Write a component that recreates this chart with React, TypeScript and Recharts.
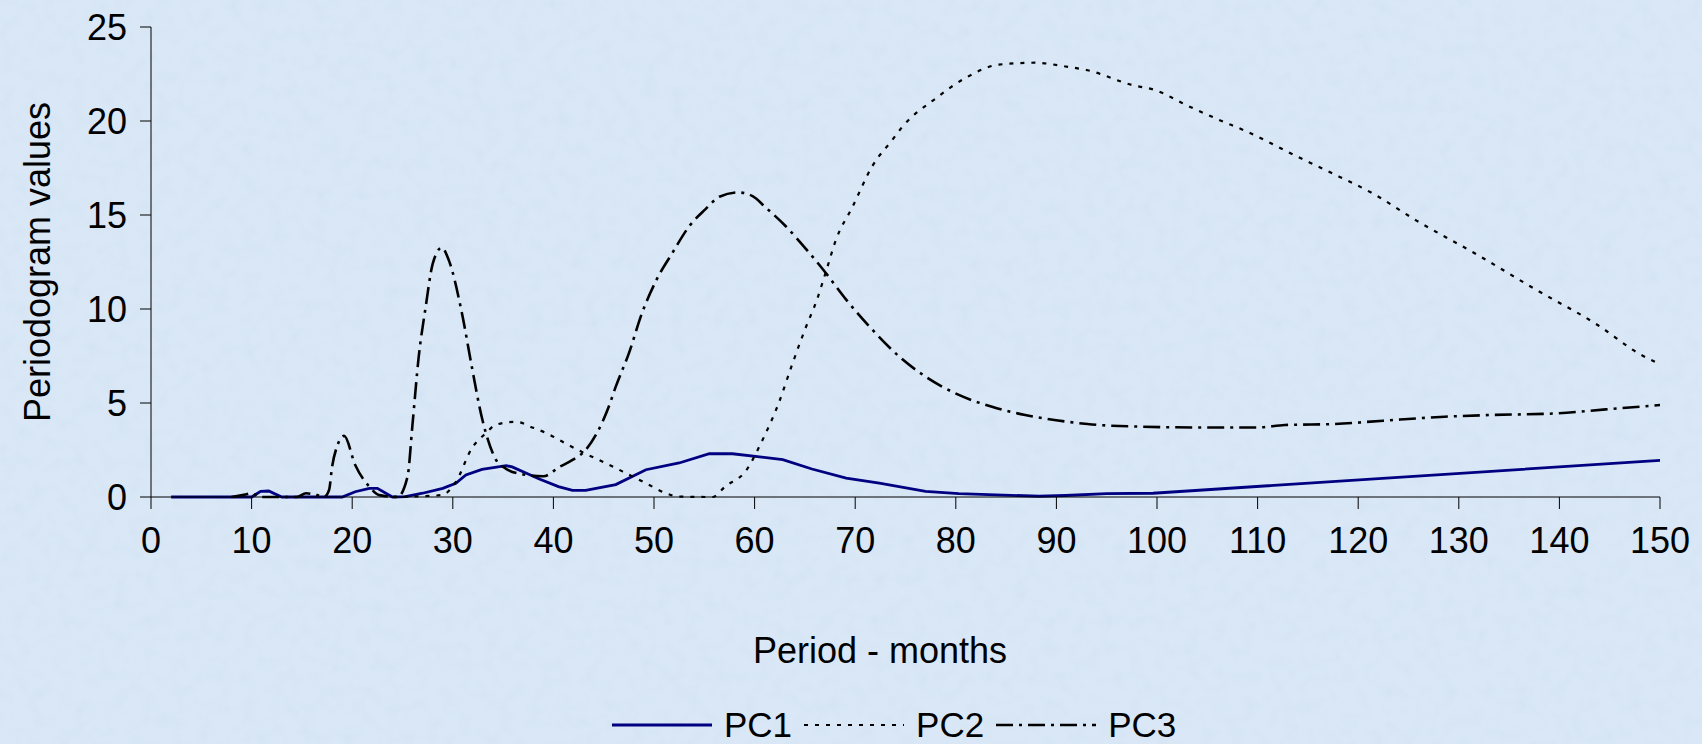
import { LineChart, Line, XAxis, YAxis } from 'recharts';

// x axis: period in months, y axis: periodogram value
const xTicks = [0, 10, 20, 30, 40, 50, 60, 70, 80, 90, 100, 110, 120, 130, 140, 150];
const yTicks = [0, 5, 10, 15, 20, 25];

const pc1Period = [2, 10, 10.9, 11.7, 13, 19, 20.3, 21.7, 22.5, 24, 25.3, 27, 29, 30.3, 31.3, 32.9, 35.3, 35.9, 37.6, 38.6, 40.5, 41.9, 43.2, 46.2, 49.2, 52.5, 55.5, 57.8, 62.8, 65.7, 69.1, 72.4, 77, 80.3, 88.3, 90.9, 95, 99.6, 150];
const pc1Value = [0, 0, 0.3, 0.32, 0, 0, 0.28, 0.46, 0.46, 0, 0.02, 0.2, 0.46, 0.73, 1.17, 1.47, 1.67, 1.6, 1.2, 0.96, 0.55, 0.35, 0.35, 0.66, 1.45, 1.81, 2.3, 2.3, 1.99, 1.49, 1.01, 0.74, 0.3, 0.18, 0.04, 0.08, 0.18, 0.2, 1.95];

const pc2Period = [24, 28.9, 30.3, 31.9, 33.3, 34.3, 36.3, 37.9, 39.3, 41.2, 43.2, 44.9, 46.9, 49.2, 51.2, 52.5, 55.8, 57.1, 59.1, 60.8, 62.4, 63.7, 65, 66.2, 67.1, 68.1, 69.7, 71.7, 73.7, 74.7, 78, 81, 84.3, 87.9, 90.9, 93.1, 97.6, 99.8, 102.9, 106, 109.1, 113.6, 116.7, 121.6, 125.8, 131.8, 137.6, 143.8, 148, 150];
const pc2Value = [0, 0.1, 0.8, 2.6, 3.4, 3.85, 4.0, 3.7, 3.4, 2.85, 2.3, 1.88, 1.35, 0.73, 0.2, 0.02, 0, 0.57, 1.37, 3.05, 5.0, 7.0, 8.9, 10.5, 12.0, 13.7, 15.4, 17.6, 19.0, 19.7, 21.2, 22.3, 23.0, 23.1, 22.9, 22.7, 21.9, 21.65, 20.85, 20.1, 19.4, 18.2, 17.4, 16.1, 14.7, 12.9, 11.05, 9.15, 7.6, 7.06];

const pc3Period = [8, 9.5, 10, 10.8, 14.5, 15.4, 16.5, 17.2, 17.7, 18, 18.5, 19.2, 20.3, 21.7, 22.7, 24.5, 25.5, 26, 26.6, 27.3, 28, 28.9, 29.6, 30.9, 31.9, 32.9, 34.3, 35.3, 37, 39, 40.6, 41.9, 43.2, 45.5, 46.2, 47.5, 48.8, 50.2, 51.8, 53.5, 55.1, 56.5, 58.4, 59.8, 61.1, 63.1, 65.1, 67.1, 69.1, 71.7, 74.4, 77, 80.3, 83.6, 86.9, 88.7, 93.1, 98.5, 104.3, 110, 112.7, 117.6, 122.5, 128.6, 133.1, 139.8, 144.6, 150];
const pc3Value = [0, 0.15, 0.2, 0, 0, 0.2, 0.1, 0, 0.37, 1.6, 2.7, 3.25, 1.7, 0.55, 0.1, 0, 1.08, 3.9, 7.4, 10.1, 12.4, 13.26, 12.6, 9.8, 6.9, 4.2, 1.97, 1.5, 1.2, 1.1, 1.6, 1.97, 2.5, 4.8, 5.87, 7.64, 9.77, 11.5, 12.96, 14.4, 15.3, 15.97, 16.2, 16.0, 15.4, 14.4, 13.2, 11.9, 10.5, 8.9, 7.46, 6.4, 5.43, 4.8, 4.36, 4.19, 3.88, 3.74, 3.7, 3.7, 3.83, 3.88, 4.06, 4.27, 4.36, 4.45, 4.66, 4.89];

const toPoints = (period: number[], value: number[]) =>
  period.map((p, i) => ({ period: p, value: value[i] }));

const series = [
  { name: 'PC1', data: toPoints(pc1Period, pc1Value), color: '#000080', width: 2.8, dash: undefined as string | undefined, type: 'linear' as const },
  { name: 'PC2', data: toPoints(pc2Period, pc2Value), color: '#000000', width: 2.2, dash: '4 7', type: 'monotone' as const },
  { name: 'PC3', data: toPoints(pc3Period, pc3Value), color: '#000000', width: 2.6, dash: '17 6 3 6', type: 'monotone' as const },
];

const font = '"Liberation Sans", Arial, sans-serif';
const bg = '#d9e7f6';

const App = () => {
  return (
    <div style={{ position: 'absolute', left: 0, top: 0, width: 1702, height: 744, background: bg, fontFamily: font, overflow: 'hidden' }}>
      {/* tissue-paper style background */}
      <svg width={1702} height={744} style={{ position: 'absolute', left: 0, top: 0 }}>
        <defs>
          <filter id="tissue" x="0" y="0" width="100%" height="100%">
            <feTurbulence type="fractalNoise" baseFrequency="0.07" numOctaves="2" seed="7" />
            <feColorMatrix type="matrix" values="0 0 0 0 0.66  0 0 0 0 0.77  0 0 0 0 0.9  2.6 0 0 0 -1.1" />
          </filter>
        </defs>
        <rect width={1702} height={744} fill={bg} />
        <rect width={1702} height={744} filter="url(#tissue)" opacity={0.6} />
      </svg>

      <LineChart width={1702} height={744} margin={{ top: 27, right: 42, left: 0, bottom: 187 }}>
        <XAxis
          dataKey="period"
          type="number"
          domain={[0, 150]}
          ticks={xTicks}
          allowDataOverflow
          height={60}
          stroke="#000"
          tickSize={12}
          tickMargin={18}
          tick={{ fill: '#000', fontSize: 36, fontFamily: font }}
        />
        <YAxis
          type="number"
          domain={[0, 25]}
          ticks={yTicks}
          width={151}
          stroke="#000"
          tickSize={11}
          tickMargin={13}
          tick={{ fill: '#000', fontSize: 36, fontFamily: font }}
        />
        {series.map((s) => (
          <Line
            key={s.name}
            data={s.data}
            dataKey="value"
            name={s.name}
            type={s.type}
            stroke={s.color}
            strokeWidth={s.width}
            strokeDasharray={s.dash}
            dot={false}
            activeDot={false}
            isAnimationActive={false}
          />
        ))}
      </LineChart>

      {/* axis titles */}
      <div style={{ position: 'absolute', left: 38, top: 262, transform: 'translate(-50%, -50%) rotate(-90deg)', fontSize: 36, whiteSpace: 'nowrap', color: '#000' }}>
        Periodogram values
      </div>
      <div style={{ position: 'absolute', left: 753, top: 630, fontSize: 36, whiteSpace: 'nowrap', color: '#000' }}>
        Period - months
      </div>

      {/* legend */}
      <div style={{ position: 'absolute', left: 612, top: 705, display: 'flex', alignItems: 'center', fontSize: 35, color: '#000' }}>
        {series.map((s) => (
          <div key={s.name} style={{ display: 'flex', alignItems: 'center', marginRight: 12 }}>
            <svg width={100} height={20} style={{ marginRight: 12 }}>
              <line x1={0} y1={10} x2={100} y2={10} stroke={s.color} strokeWidth={s.width} strokeDasharray={s.dash} />
            </svg>
            <span>{s.name}</span>
          </div>
        ))}
      </div>
    </div>
  );
};

export default App;
